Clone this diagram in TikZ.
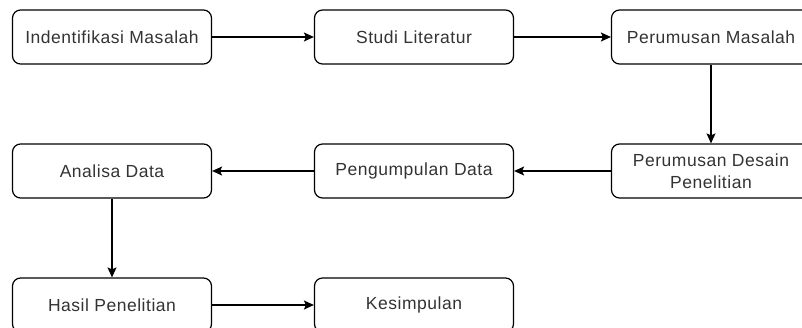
\documentclass[tikz,border=0pt]{standalone}
\usepackage{fontspec}
\setmainfont[LetterSpace=3]{Liberation Sans}
\usepackage{tikz}
\usetikzlibrary{shapes,arrows.meta,positioning}

\begin{document}
\begin{tikzpicture}[x=1pt, y=1pt,
    langkah/.style={draw, line width=1.2pt, rounded corners=8pt, minimum width=199pt,
        minimum height=54pt, align=center, inner sep=0pt,
        font=\fontsize{17.5}{22}\selectfont, text=black!80},
    panah/.style={-{Stealth[length=10pt, width=9pt, inset=2pt]}, line width=1.2pt}]
                \clip (0,0) rectangle (802,327);
                \node[langkah] (identifikasi) at (112, 290) {Indentifikasi Masalah};
                \node[langkah] (studi) at (414, 290) {Studi Literatur};
                \node[langkah] (rumusan) at (711, 290) {Perumusan Masalah};
                \node[langkah] (desain) at (711, 156) {Perumusan Desain\\Penelitian};
                \node[langkah] (pengumpulan) at (414, 156) {Pengumpulan Data};
                \node[langkah] (analisa) at (112, 156) {Analisa Data};
                \node[langkah] (hasil) at (112, 22) {Hasil Penelitian};
                \node[langkah] (kesimpulan) at (414, 22) {Kesimpulan};
                
                \draw[panah] (identifikasi) -- (studi);
                \draw[panah] (studi) -- (rumusan);
                \draw[panah] (rumusan) -- (desain);
                \draw[panah] (desain) -- (pengumpulan);
                \draw[panah] (pengumpulan) -- (analisa);
                \draw[panah] (analisa) -- (hasil);
                \draw[panah] (hasil) -- (kesimpulan);
            \end{tikzpicture}
\end{document}
